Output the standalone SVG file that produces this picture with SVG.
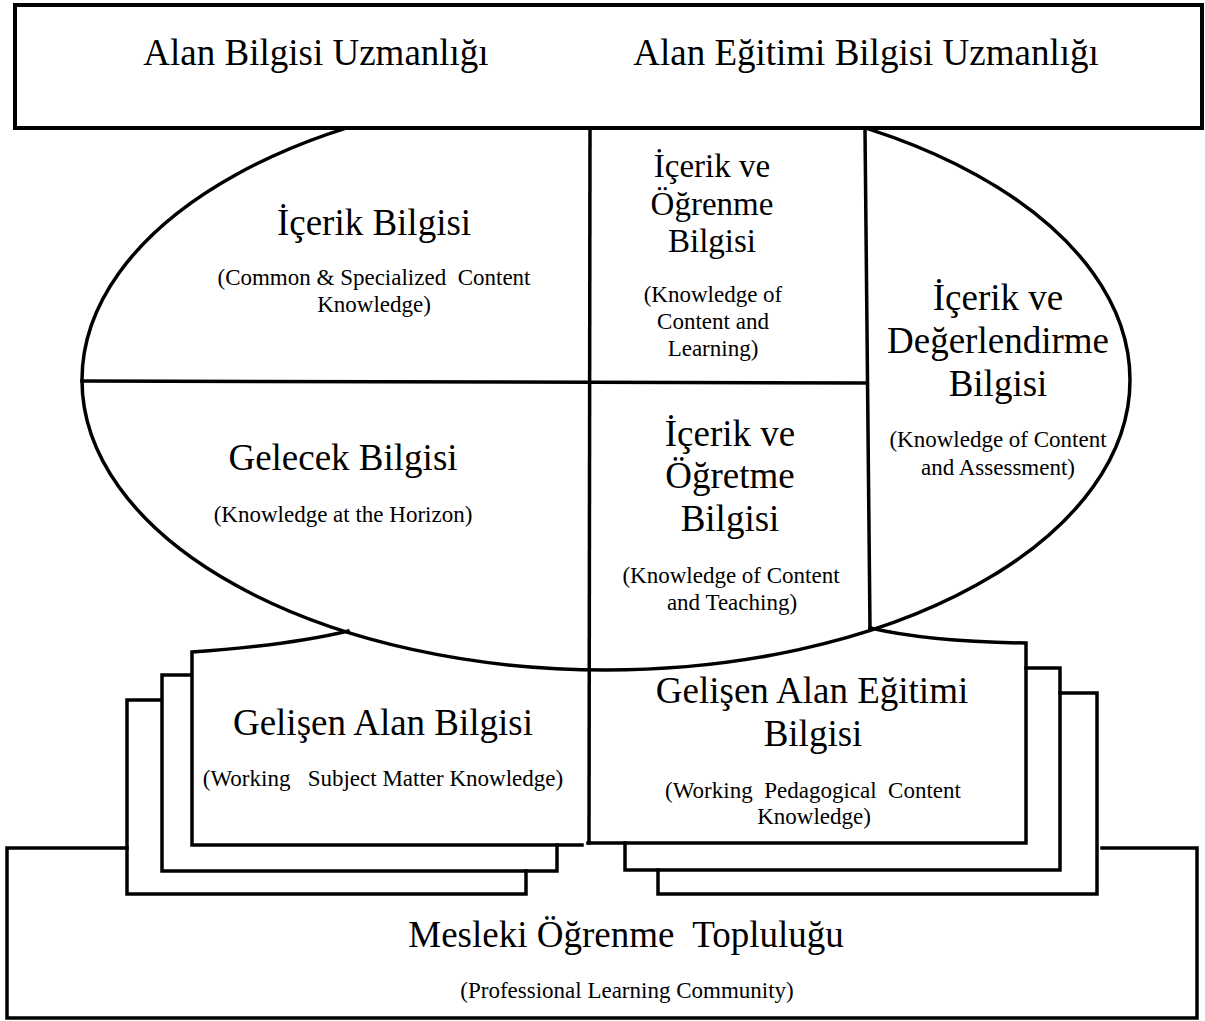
<svg xmlns="http://www.w3.org/2000/svg" width="1205" height="1021" viewBox="0 0 1205 1021">
<style>
.ln{fill:none;stroke:#000;stroke-width:3.5;stroke-linejoin:miter;stroke-linecap:square}
.box{fill:#fff;stroke:#000;stroke-width:4}
text{font-family:"Liberation Serif","Times New Roman",serif;fill:#000;text-anchor:middle}
.t{font-size:37px}
.tm{font-size:33px}
.s{font-size:23px}
</style>
<rect width="1205" height="1021" fill="#fff"/>
<g id="community">
<path class="ln" d="M127,848 H7 V1018 H1197 V848 H1102"/>
<text class="t" x="626" y="947" xml:space="preserve">Mesleki Öğrenme  Topluluğu</text>
<text class="s" x="627" y="998">(Professional Learning Community)</text>
</g>
<g id="working-smk-stack">
<path class="ln" d="M160,700 H127 V894 H526 V871"/>
<path class="ln" d="M190,675 H162 V871 H557 V845"/>
</g>
<g id="working-pck-stack">
<path class="ln" d="M1060,693 H1097 V894 H658 V870"/>
<path class="ln" d="M1026,668 H1060 V870 H625 V843"/>
</g>
<g id="ellipse">
<ellipse class="ln" cx="606" cy="380" rx="524" ry="290"/>
</g>
<g id="working-smk">
<path class="ln" d="M348,631 Q290,645 192,652 V845 H582"/>
<text class="t" x="383" y="735">Gelişen Alan Bilgisi</text>
<text class="s" x="383" y="786" xml:space="preserve">(Working   Subject Matter Knowledge)</text>
</g>
<g id="working-pck">
<path class="ln" d="M870,628 Q930,642 1026,643 V843 H588"/>
<text class="t" x="812" y="703">Gelişen Alan Eğitimi</text>
<text class="t" x="813" y="746">Bilgisi</text>
<text class="s" x="813" y="798" xml:space="preserve">(Working  Pedagogical  Content</text>
<text class="s" x="814" y="824">Knowledge)</text>
</g>
<g id="expertise">
<rect class="box" x="15" y="5" width="1187" height="123"/>
<text class="t" x="316" y="65">Alan Bilgisi Uzmanlığı</text>
<text class="t" x="866" y="65">Alan Eğitimi Bilgisi Uzmanlığı</text>
</g>
<g id="connectors">
<line class="ln" x1="590" y1="128" x2="589" y2="843"/>
<line class="ln" x1="865" y1="130" x2="870" y2="628"/>
<line class="ln" x1="82" y1="381" x2="867" y2="383"/>
</g>
<g id="content-knowledge">
<text class="t" x="374" y="235">İçerik Bilgisi</text>
<text class="s" x="374" y="285" xml:space="preserve">(Common &amp; Specialized  Content</text>
<text class="s" x="374" y="312">Knowledge)</text>
</g>
<g id="content-learning">
<text class="tm" x="712" y="177">İçerik ve</text>
<text class="tm" x="712" y="215">Öğrenme</text>
<text class="tm" x="712" y="252">Bilgisi</text>
<text class="s" x="713" y="302">(Knowledge of</text>
<text class="s" x="713" y="329">Content and</text>
<text class="s" x="713" y="356">Learning)</text>
</g>
<g id="content-assessment">
<text class="t" x="998" y="310">İçerik ve</text>
<text class="t" x="998" y="353">Değerlendirme</text>
<text class="t" x="998" y="396">Bilgisi</text>
<text class="s" x="998" y="447">(Knowledge of Content</text>
<text class="s" x="998" y="475">and Assessment)</text>
</g>
<g id="horizon">
<text class="t" x="343" y="470">Gelecek Bilgisi</text>
<text class="s" x="343" y="522">(Knowledge at the Horizon)</text>
</g>
<g id="content-teaching">
<text class="t" x="730" y="446">İçerik ve</text>
<text class="t" x="730" y="488">Öğretme</text>
<text class="t" x="730" y="531">Bilgisi</text>
<text class="s" x="731" y="583">(Knowledge of Content</text>
<text class="s" x="732" y="610">and Teaching)</text>
</g>
</svg>
